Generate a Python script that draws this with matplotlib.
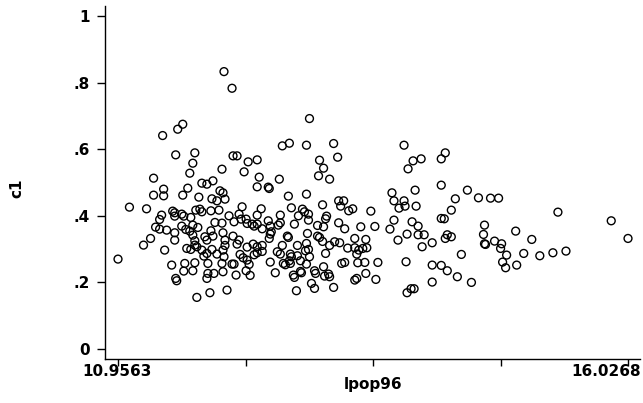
import numpy as np
import matplotlib
matplotlib.use("Agg")
import matplotlib.pyplot as plt

# log population 1996 (x) and c1 (y)
lpop96 = [
    11.60, 11.55, 11.40, 11.53, 11.72, 11.70, 11.67, 11.31, 11.79, 11.84,
    11.90, 11.41, 11.65, 11.31, 11.41, 11.60, 11.76, 11.89, 11.94, 11.07,
    11.24, 11.50, 11.52, 11.61, 11.68, 11.73, 11.77, 11.79, 11.88, 11.96,
    11.39, 11.37, 11.33, 11.37, 11.44, 11.59, 11.63, 11.70, 11.75, 11.52,
    11.88, 11.92, 11.99, 11.28, 11.21, 11.52, 11.70, 11.72, 11.82, 11.84,
    11.90, 11.42, 11.64, 11.68, 11.74, 11.79, 11.81, 11.84, 11.89, 11.94,
    10.9563, 11.49, 11.62, 11.72, 11.85, 11.61, 11.70, 11.85, 11.91, 11.84,
    11.53, 11.54, 11.74, 11.87, 12.01, 12.09, 11.59, 11.67, 11.72, 11.52,
    12.86, 12.59, 12.66, 12.83, 13.10, 12.10, 12.14, 12.25, 12.34, 11.99,
    12.21, 12.36, 12.56, 12.34, 12.45, 12.46, 12.96, 13.00, 12.95, 13.06,
    11.97, 12.00, 12.65, 12.83, 12.02, 12.99, 12.19, 12.38, 12.68, 12.79,
    12.81, 12.06, 12.16, 12.18, 12.34, 12.57, 12.75, 12.85, 13.03, 13.02,
    12.11, 12.23, 12.24, 12.29, 12.31, 12.34, 12.39, 12.45, 12.47, 12.48,
    12.55, 12.57, 12.71, 12.85, 12.94, 13.00, 12.00, 12.10, 12.02, 12.02,
    12.14, 12.24, 12.30, 12.34, 12.39, 12.46, 12.47, 12.64, 12.65, 12.59,
    12.74, 12.83, 12.84, 12.94, 12.96, 12.99, 13.06, 13.11, 12.00, 12.01,
    12.17, 12.20, 12.31, 12.34, 12.39, 12.54, 12.57, 12.67, 12.68, 12.74,
    12.82, 12.85, 12.86, 13.02, 11.99, 12.09, 12.11, 12.26, 12.47, 12.60,
    12.62, 12.66, 12.67, 12.77, 12.83, 12.91, 12.92, 13.00, 12.00, 12.13,
    12.23, 12.27, 12.52, 12.70, 12.71, 12.77, 12.78, 13.01, 13.05, 13.06,
    12.04, 12.73, 12.88, 12.91, 13.10, 12.16, 12.24,
    13.80, 13.89, 13.97, 13.84, 14.17, 14.21, 14.17, 13.68, 13.91, 13.14,
    13.15, 13.20, 13.17, 13.25, 13.29, 13.47, 13.70, 13.80, 13.81, 13.75,
    13.92, 14.27, 13.70, 13.66, 13.88, 13.94, 14.17, 14.20, 13.15, 13.21,
    13.37, 13.51, 13.74, 13.83, 13.94, 14.00, 13.98, 14.08, 14.21, 14.23,
    14.27, 13.16, 13.31, 13.42, 13.24, 13.31, 13.35, 13.39, 13.43, 13.33,
    13.18, 13.21, 13.34, 13.41, 13.54, 13.82, 14.08, 14.17, 14.23, 13.42,
    13.31, 13.33, 13.52, 14.08, 13.83, 13.87, 13.90,
    14.43, 14.31, 14.54, 14.66, 14.74, 15.33, 14.60, 14.91, 14.59, 14.61,
    14.60, 14.70, 14.77, 14.76, 15.07, 14.37, 14.82, 14.78, 14.81, 14.92,
    14.99, 15.15, 15.28, 15.41, 14.33, 14.47, 15.86, 16.0268,
]

c1 = [
    .675, .660, .641, .583, .589, .558, .528, .513, .498, .495,
    .505, .480, .483, .462, .460, .462, .456, .451, .445, .426,
    .421, .414, .399, .399, .395, .417, .420, .412, .415, .417,
    .402, .389, .366, .360, .357, .369, .359, .372, .365, .349,
    .355, .380, .378, .332, .312, .327, .342, .325, .337, .327,
    .339, .297, .302, .299, .307, .297, .279, .287, .299, .285,
    .270, .252, .257, .259, .257, .234, .235, .227, .227, .212,
    .212, .205, .155, .169, .833, .783, .405, .354, .312, .409,
    .692, .610, .618, .612, .617, .580, .580, .562, .568, .540,
    .532, .516, .510, .487, .486, .482, .567, .543, .520, .510,
    .475, .469, .459, .465, .450, .433, .427, .421, .424, .420,
    .412, .400, .405, .390, .402, .402, .400, .405, .399, .391,
    .382, .390, .377, .375, .369, .375, .361, .385, .369, .352,
    .372, .379, .375, .387, .371, .367, .349, .339, .327, .311,
    .315, .306, .315, .307, .311, .332, .345, .339, .335, .311,
    .311, .317, .347, .339, .335, .323, .311, .322, .297, .277,
    .284, .274, .283, .289, .293, .292, .285, .285, .277, .280,
    .295, .299, .277, .287, .257, .255, .255, .254, .261, .257,
    .253, .265, .257, .265, .255, .235, .227, .247, .232, .222,
    .235, .221, .229, .222, .215, .233, .229, .219, .225, .217,
    .177, .175, .197, .182, .185, .327, .267,
    .612, .565, .571, .541, .571, .589, .492, .469, .477, .576,
    .445, .445, .429, .415, .421, .414, .445, .445, .429, .423,
    .429, .417, .387, .360, .382, .369, .392, .391, .379, .361,
    .367, .368, .327, .345, .343, .343, .307, .319, .332, .343,
    .337, .319, .332, .329, .303, .304, .297, .302, .304, .285,
    .257, .260, .259, .260, .260, .262, .252, .251, .235, .227,
    .207, .212, .209, .201, .169, .181, .181,
    .477, .451, .454, .453, .453, .411, .372, .354, .344, .314,
    .316, .324, .316, .302, .329, .284, .282, .261, .244, .252,
    .287, .280, .289, .294, .217, .200, .385, .332,
]

y_ticks = [0, 0.2, 0.4, 0.6, 0.8, 1.0]
y_tick_labels = ["0", ".2", ".4", ".6", ".8", "1"]
x_label = "lpop96"
y_label = "c1"

x_min, x_max = min(lpop96), max(lpop96)
x_ticks = np.linspace(x_min, x_max, 5)
x_tick_labels = [f"{x_min:.4f}", "", "", "", f"{x_max:.4f}"]

W, H = 643, 403
fig = plt.figure(figsize=(W / 100, H / 100), dpi=100)
ax = fig.add_axes([105 / W, 1 - 359 / H, 535 / W, 353 / H])

ax.scatter(lpop96, c1, s=32, facecolors="none", edgecolors="black",
           linewidths=1.0, zorder=3)

ax.set_xlim(10.827, 16.146)
ax.set_ylim(-0.030, 1.030)

for side in ("top", "right"):
    ax.spines[side].set_visible(False)
for side in ("left", "bottom"):
    ax.spines[side].set_linewidth(1.0)
    ax.spines[side].set_color("black")

font = dict(family="DejaVu Sans", weight="bold", size=11)
ax.set_yticks(y_ticks)
ax.set_yticklabels(y_tick_labels, **font)
ax.set_xticks(x_ticks)
ax.set_xticklabels([""] * 5)
ax.tick_params(axis="y", direction="out", length=6, width=1.0, pad=5)
ax.tick_params(axis="x", direction="out", length=5, width=1.0)

# end labels of the x axis, the right one kept inside the frame
fig.text(117 / W, 1 - 372 / H, x_tick_labels[0], ha="center", va="center", **font)
fig.text(641 / W, 1 - 372 / H, x_tick_labels[-1], ha="right", va="center", **font)

fig.text(373 / W, 1 - 384 / H, x_label, ha="center", va="center", **font)
fig.text(17 / W, 1 - 188 / H, y_label, ha="center", va="center",
         rotation=90, **font)

fig.savefig("out.png", dpi=100)
